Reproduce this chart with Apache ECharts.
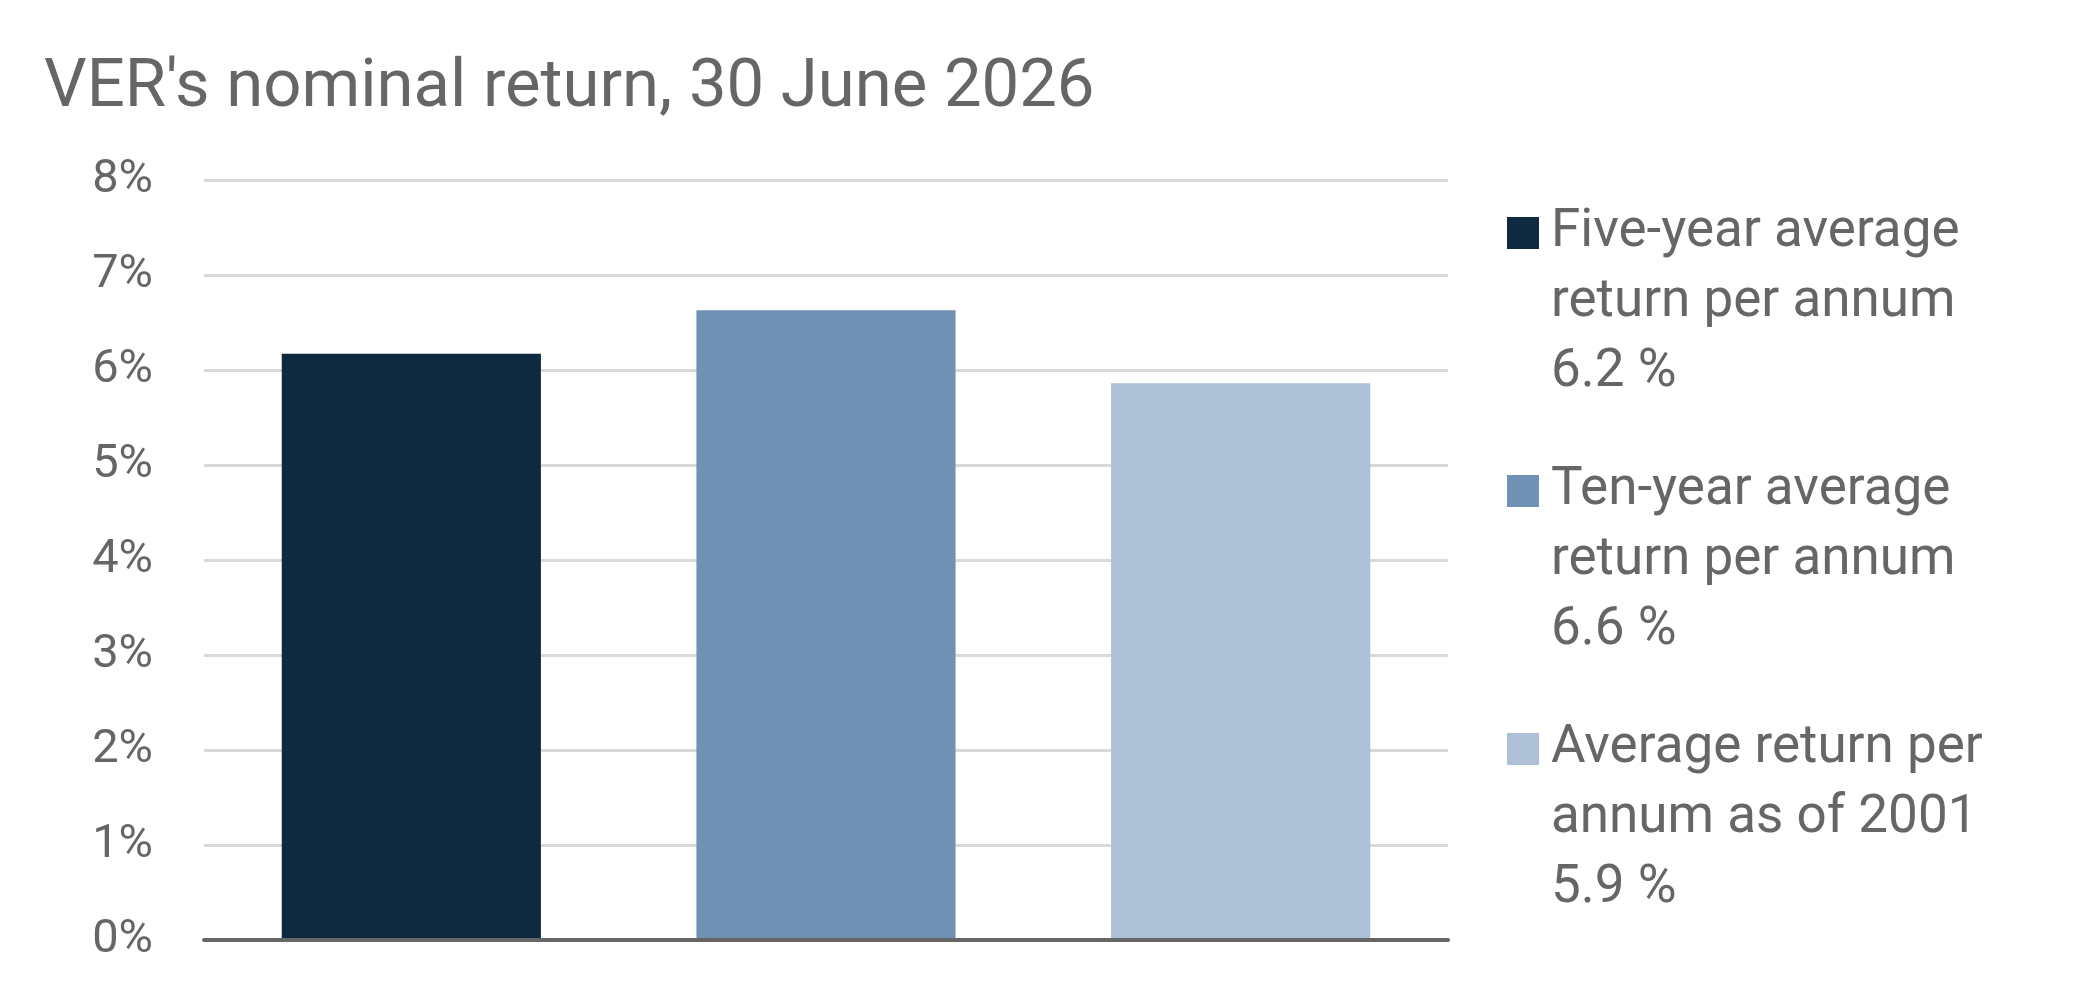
<!DOCTYPE html>
<html>
<head>
<meta charset="utf-8">
<script src="https://cdn.jsdelivr.net/npm/echarts@6/dist/echarts.min.js"></script>
<style>
  html, body { margin: 0; padding: 0; background: #fff; }
  #chart { width: 2088px; height: 997px; }
</style>
</head>
<body>
<div id="chart"></div>
<script>
// chart data
const categories = ['Five-year', 'Ten-year', 'Since 2001']
const seriesNames = [
  'Five-year average\nreturn per annum',
  'Ten-year average\nreturn per annum',
  'Average return per\nannum as of 2001'
]
const returns = [6.17, 6.63, 5.86]
const returnLabels = ['6.2 %', '6.6 %', '5.9 %']
const barColors = ['#0f2a40', '#7091b3', '#aec0d5']
const yMin = 0
const yMax = 8
const yStep = 1

const textColor = '#666666'
const font = 'Roboto'

let myChart = echarts.init(document.getElementById('chart'))

// one series per bar so the legend can list them
let series = seriesNames.map((name, i) => ({
  name: name,
  type: 'bar',
  barWidth: '62.5%',
  barGap: '-100%',
  itemStyle: { color: barColors[i] },
  data: categories.map((c, j) => (j === i ? returns[i] : '-'))
}))

myChart.setOption({
  animation: false,
  title: {
    text: "VER's nominal return, 30 June 2026",
    left: 44,
    top: 56,
    padding: 0,
    textStyle: { fontFamily: font, fontSize: 67, fontWeight: 'normal', color: textColor }
  },
  legend: {
    orient: 'vertical',
    left: 1507,
    top: 58,
    padding: 0,
    itemWidth: 32,
    itemHeight: 32,
    itemGap: -92,
    icon: 'rect',
    selectedMode: false,
    data: seriesNames,
    // two blank lines on top so the first text line sits beside the square
    formatter: name => '\n\n' + name + '\n' + returnLabels[seriesNames.indexOf(name)],
    textStyle: {
      fontFamily: font,
      fontSize: 53,
      lineHeight: 70,
      color: textColor,
      padding: [0, 0, 0, 7]
    }
  },
  grid: { left: 204, right: 640, top: 180, bottom: 57, containLabel: false },
  xAxis: {
    type: 'category',
    data: categories,
    z: 5,
    axisLine: { lineStyle: { color: '#666666', width: 4 } },
    axisTick: { show: false },
    axisLabel: { show: false }
  },
  yAxis: {
    type: 'value',
    min: yMin,
    max: yMax,
    interval: yStep,
    axisLine: { show: false },
    axisTick: { show: false },
    splitLine: { lineStyle: { color: '#d9d9d9', width: 3 } },
    axisLabel: {
      formatter: '{value}%',
      margin: 51,
      fontFamily: font,
      fontSize: 47,
      color: textColor
    }
  },
  series: series
})
</script>
</body>
</html>
